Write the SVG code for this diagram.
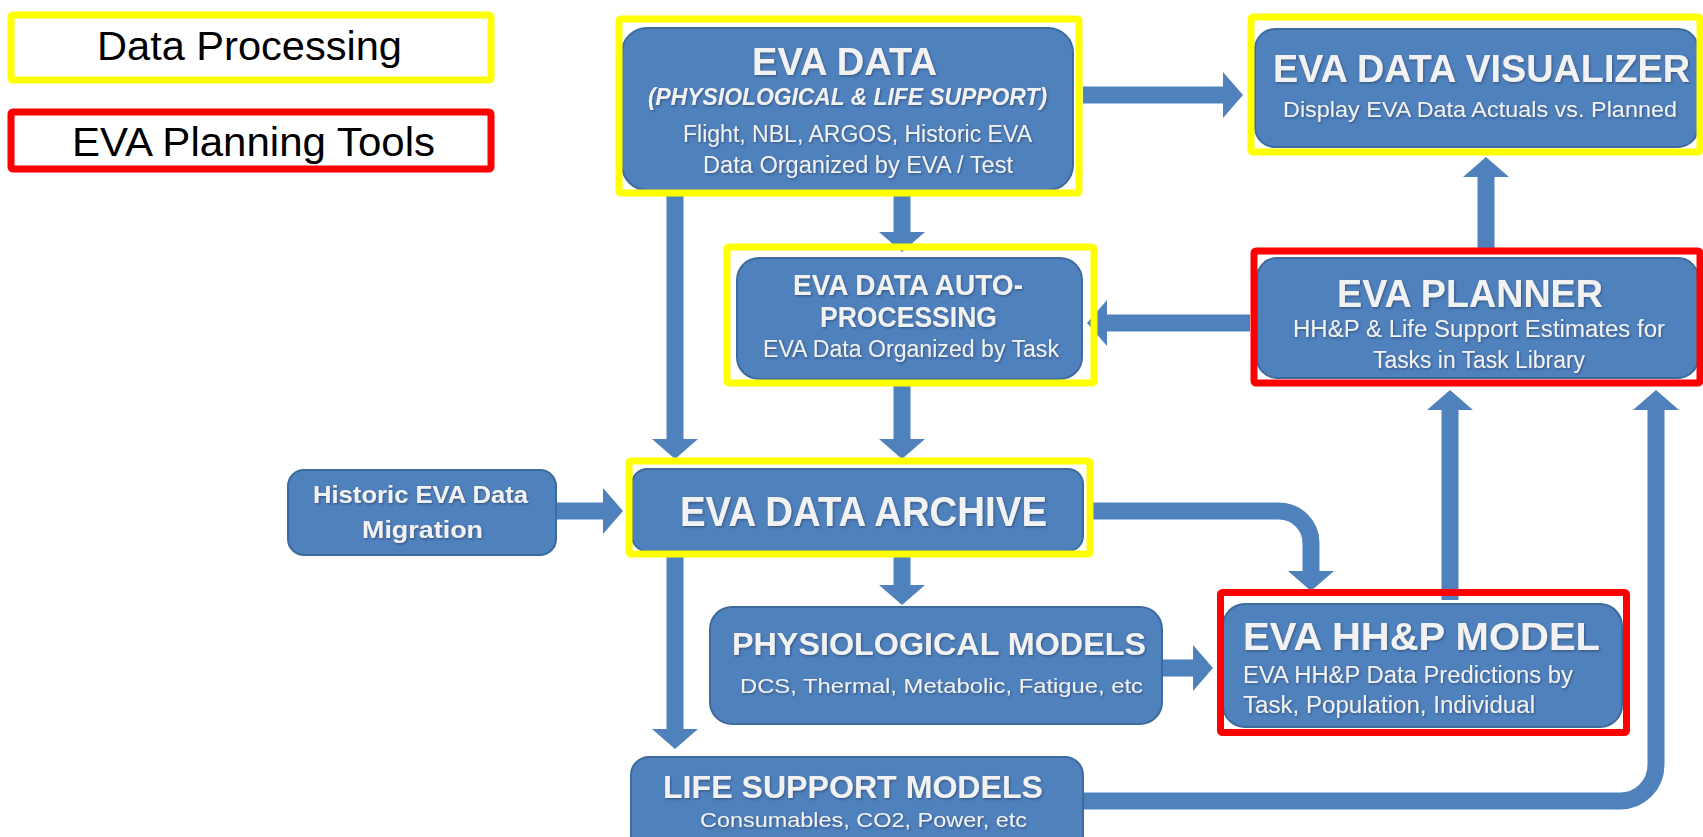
<svg xmlns="http://www.w3.org/2000/svg" width="1703" height="837" viewBox="0 0 1703 837">
<style>
.box{fill:#4F81BD;stroke:#3E6B9E;stroke-width:2}
.yl{fill:none;stroke:#FFFF00;stroke-width:7}
.rd{fill:none;stroke:#FF0000;stroke-width:7}
.lg{font-family:"Liberation Sans",Arial,sans-serif;font-size:41px;fill:#000}
.t{font-family:"Liberation Sans",Arial,sans-serif;fill:#F2F2F2;filter:url(#sh)}
.b{font-weight:bold}
.i{font-style:italic}
.con{fill:none;stroke:#4F81BD;stroke-width:17;marker-end:url(#ah)}
</style>
<defs>
<filter id="sh" x="-5%" y="-20%" width="110%" height="150%">
<feDropShadow dx="1" dy="1.2" stdDeviation="0.8" flood-color="#1F3350" flood-opacity="0.55"/>
</filter>
<marker id="ah" markerUnits="userSpaceOnUse" markerWidth="20" markerHeight="46" viewBox="0 0 20 46" refX="0" refY="23" orient="auto">
<path d="M0,0 L20,23 L0,46 Z" fill="#4F81BD"/>
</marker>
</defs>

<g id="legend-data-processing">
<rect class="yl" x="11" y="15" width="480" height="65" rx="2"/>
<text class="lg" x="97" y="60" textLength="305" lengthAdjust="spacingAndGlyphs">Data Processing</text>
</g>
<g id="legend-planning-tools">
<rect class="rd" x="11" y="112" width="480" height="57" rx="2"/>
<text class="lg" x="72" y="156" textLength="363" lengthAdjust="spacingAndGlyphs">EVA Planning Tools</text>
</g>

<g id="connectors">
<path class="con" d="M1083,95 H1223"/>
<path class="con" d="M1486,251 V177"/>
<path class="con" d="M1250,323 H1107"/>
<path class="con" d="M902,193 V232"/>
<path class="con" d="M902,383 V439"/>
<path class="con" d="M675,193 V439"/>
<path class="con" d="M556,511 H603"/>
<path class="con" d="M902,554 V585"/>
<path class="con" d="M675,554 V729"/>
<path class="con" d="M1090,511 H1279 A32,32 0 0 1 1311,543 V571"/>
<path class="con" d="M1162,668 H1193"/>
<path class="con" d="M1450,600 V410"/>
<path class="con" d="M1083,801 H1620 A36,36 0 0 0 1656,765 V410"/>
</g>

<g id="eva-data">
<rect class="box" x="622" y="28" width="451" height="162" rx="25"/>
<rect class="yl" x="619" y="19" width="460" height="174" rx="2"/>
<text class="t b" x="752" y="75" font-size="39" textLength="185" lengthAdjust="spacingAndGlyphs">EVA DATA</text>
<text class="t b i" x="648" y="105" font-size="23" textLength="399" lengthAdjust="spacingAndGlyphs">(PHYSIOLOGICAL  &amp; LIFE SUPPORT)</text>
<text class="t" x="683" y="142" font-size="23" textLength="349" lengthAdjust="spacingAndGlyphs">Flight, NBL, ARGOS, Historic EVA</text>
<text class="t" x="703" y="173" font-size="23" textLength="310" lengthAdjust="spacingAndGlyphs">Data Organized by EVA / Test</text>
</g>

<g id="eva-data-visualizer">
<rect class="box" x="1255" y="29" width="443" height="118" rx="20"/>
<rect class="yl" x="1251" y="17" width="449" height="135" rx="2"/>
<text class="t b" x="1273" y="82" font-size="39" textLength="417" lengthAdjust="spacingAndGlyphs">EVA DATA VISUALIZER</text>
<text class="t" x="1283" y="117" font-size="22" textLength="394" lengthAdjust="spacingAndGlyphs">Display EVA Data Actuals vs. Planned</text>
</g>

<g id="eva-data-auto-processing">
<rect class="box" x="737" y="258" width="345" height="121" rx="22"/>
<rect class="yl" x="727" y="247" width="367" height="136" rx="2"/>
<text class="t b" x="793" y="295" font-size="29" textLength="230" lengthAdjust="spacingAndGlyphs">EVA DATA AUTO-</text>
<text class="t b" x="820" y="327" font-size="29" textLength="177" lengthAdjust="spacingAndGlyphs">PROCESSING</text>
<text class="t" x="763" y="357" font-size="23" textLength="296" lengthAdjust="spacingAndGlyphs">EVA Data Organized by Task</text>
</g>

<g id="eva-planner">
<rect class="box" x="1257" y="258" width="441" height="120" rx="20"/>
<rect class="rd" x="1254" y="251" width="446" height="132" rx="2"/>
<text class="t b" x="1337" y="307" font-size="39" textLength="266" lengthAdjust="spacingAndGlyphs">EVA PLANNER</text>
<text class="t" x="1293" y="337" font-size="23" textLength="372" lengthAdjust="spacingAndGlyphs">HH&amp;P &amp; Life Support Estimates for</text>
<text class="t" x="1373" y="368" font-size="23" textLength="212" lengthAdjust="spacingAndGlyphs">Tasks in Task Library</text>
</g>

<g id="historic-eva-data-migration">
<rect class="box" x="288" y="470" width="268" height="85" rx="16"/>
<text class="t b" x="313" y="503" font-size="24" textLength="215" lengthAdjust="spacingAndGlyphs">Historic EVA Data</text>
<text class="t b" x="362" y="538" font-size="24" textLength="121" lengthAdjust="spacingAndGlyphs">Migration</text>
</g>

<g id="eva-data-archive">
<rect class="box" x="632" y="469" width="451" height="82" rx="15"/>
<rect class="yl" x="629" y="461" width="461" height="93" rx="2"/>
<text class="t b" x="680" y="526" font-size="42" textLength="367" lengthAdjust="spacingAndGlyphs">EVA DATA ARCHIVE</text>
</g>

<g id="physiological-models">
<rect class="box" x="710" y="607" width="452" height="117" rx="22"/>
<text class="t b" x="732" y="655" font-size="31" textLength="414" lengthAdjust="spacingAndGlyphs">PHYSIOLOGICAL MODELS</text>
<text class="t" x="740" y="693" font-size="21" textLength="403" lengthAdjust="spacingAndGlyphs">DCS, Thermal, Metabolic, Fatigue, etc</text>
</g>

<g id="eva-hhp-model">
<rect class="box" x="1223" y="604" width="399" height="123" rx="22"/>
<rect class="rd" x="1220.5" y="592.5" width="406" height="140" rx="2"/>
<text class="t b" x="1243" y="650" font-size="38" textLength="357" lengthAdjust="spacingAndGlyphs">EVA HH&amp;P MODEL</text>
<text class="t" x="1243" y="683" font-size="23" textLength="330" lengthAdjust="spacingAndGlyphs">EVA HH&amp;P Data Predictions by</text>
<text class="t" x="1243" y="713" font-size="23" textLength="292" lengthAdjust="spacingAndGlyphs">Task, Population, Individual</text>
</g>

<g id="life-support-models">
<rect class="box" x="631" y="757" width="452" height="110" rx="18"/>
<text class="t b" x="663" y="798" font-size="32" textLength="380" lengthAdjust="spacingAndGlyphs">LIFE SUPPORT MODELS</text>
<text class="t" x="700" y="827" font-size="21" textLength="327" lengthAdjust="spacingAndGlyphs">Consumables, CO2, Power, etc</text>
</g>
</svg>
